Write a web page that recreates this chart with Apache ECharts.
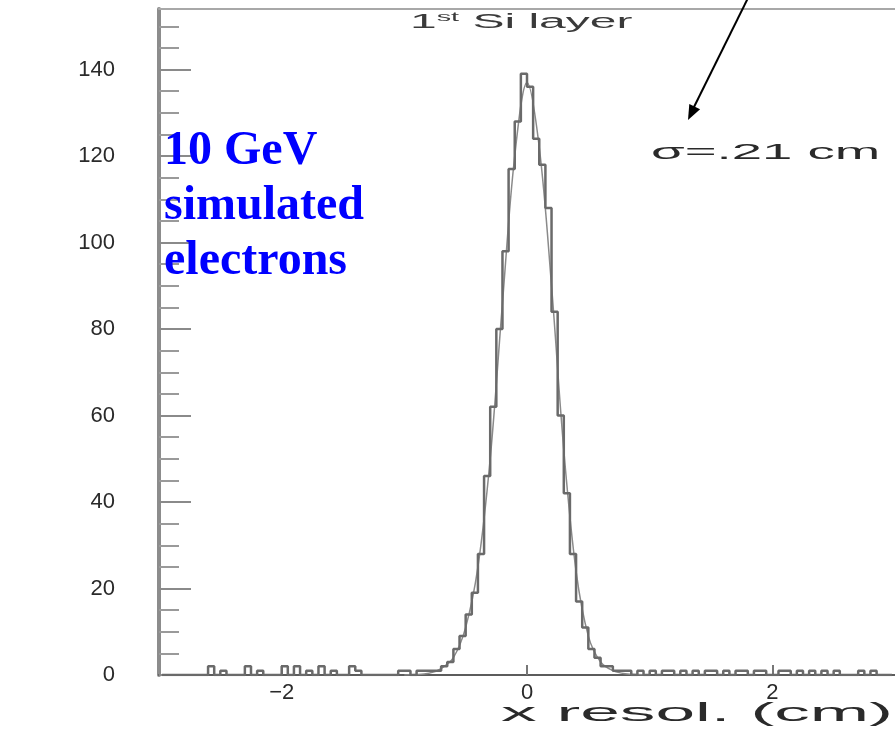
<!DOCTYPE html>
<html>
<head>
<meta charset="utf-8">
<title>1st Si layer – x resolution</title>
<script src="https://cdn.jsdelivr.net/npm/echarts@6/dist/echarts.min.js"></script>
<style>
  html, body { margin: 0; padding: 0; background: #ffffff; }
  #chart { width: 895px; height: 730px; }
</style>
</head>
<body>
<div id="chart"></div>
<script>
// Histogram binning: 120 bins of 0.05 cm between -3 and 3 cm
const binLow = -3;
const binWidth = 0.05;

// Entries per bin (x resolution, 10 GeV simulated electrons)
const binCounts = [
  0, 0, 0, 0, 0, 0, 0, 0, 2, 0,   1, 0, 0, 0, 2, 0, 1, 0, 0, 0,
  2, 0, 2, 0, 1, 0, 2, 0, 1, 0,   0, 2, 1, 0, 0, 0, 0, 0, 0, 1,
  1, 0, 1, 1, 1, 1, 2, 3, 6, 9,   14, 19, 28, 46, 62, 80, 98, 117, 128, 139,
  136, 124, 118, 108, 84, 60, 42, 28, 17, 11,   6, 4, 2, 2, 1, 1, 1, 0, 1, 0,
  1, 0, 1, 1, 0, 1, 0, 1, 0, 1,   1, 0, 1, 0, 1, 1, 0, 1, 1, 0,
  0, 1, 1, 0, 1, 0, 1, 0, 1, 0,   1, 0, 0, 0, 1, 0, 1, 0, 0, 0
];

// Gaussian fit curve, sampled points (cm, entries)
const fitX = [-1.0, -0.8, -0.7, -0.6, -0.5, -0.4, -0.3, -0.2, -0.1, 0.0, 0.1, 0.2, 0.3, 0.4, 0.5, 0.6, 0.7, 0.8, 1.0];
const fitY = [0, 0.4, 1.5, 4, 11, 25, 50, 86, 120, 137, 122, 90, 52, 24, 9, 3, 1, 0.3, 0];

// Axis ticks and labels
const xLabelValues = [-2, 0, 2];
const yLabelValues = [0, 20, 40, 60, 80, 100, 120, 140];
const yMinorValues = [5, 10, 15, 25, 30, 35, 45, 50, 55, 65, 70, 75, 85, 90, 95,
                      105, 110, 115, 125, 130, 135, 145, 150];

const xMin = -3, xMax = 3;
const yMin = 0, yMax = 154;

// Annotation texts
const titleText = ['1', 'st', ' Si layer'];
const sigmaText = 'σ=.21 cm';
const xAxisTitle = 'x resol. (cm)';
const sampleText = '10 GeV\nsimulated\nelectrons';

const histData = binCounts.map((c, i) => [binLow + binWidth * (i + 0.5), c]);
const fitData = fitX.map((x, i) => [x, fitY[i]]);

const axisFont = 'Liberation Sans';
const textGray = '#2a2a2a';

const chart = echarts.init(document.getElementById('chart'), null, { renderer: 'canvas' });

chart.setOption({
  backgroundColor: '#ffffff',
  animation: false,
  grid: { left: 159, top: 9, width: 742, height: 666, containLabel: false },
  xAxis: [
    {
      type: 'value', min: xMin, max: xMax, position: 'bottom',
      axisLine: { show: true, onZero: false, lineStyle: { color: '#5c5c5c', width: 2 } },
      axisTick: { show: true, inside: true, length: 10, customValues: xLabelValues,
                  lineStyle: { color: '#777777', width: 2 } },
      axisLabel: {
        show: true, customValues: xLabelValues, margin: 7,
        fontFamily: axisFont, fontSize: 22, color: textGray,
        formatter: v => (v < 0 ? '\u2212' + Math.abs(v) : String(v))
      },
      splitLine: { show: false }
    },
    {
      type: 'value', min: xMin, max: xMax, position: 'top',
      axisLine: { show: true, onZero: false, lineStyle: { color: '#a8a8a8', width: 2 } },
      axisTick: { show: false }, axisLabel: { show: false }, splitLine: { show: false }
    }
  ],
  yAxis: [
    {
      type: 'value', min: yMin, max: yMax, position: 'left',
      axisLine: { show: true, onZero: false, lineStyle: { color: '#8c8c8c', width: 4 } },
      axisTick: { show: true, inside: true, length: 32, customValues: yLabelValues,
                  lineStyle: { color: '#8a8a8a', width: 2 } },
      axisLabel: { show: true, customValues: yLabelValues, margin: 44,
                   fontFamily: axisFont, fontSize: 22, color: textGray },
      splitLine: { show: false }
    },
    {
      type: 'value', min: yMin, max: yMax, position: 'left',
      axisLine: { show: false, onZero: false },
      axisTick: { show: true, inside: true, length: 20, customValues: yMinorValues,
                  lineStyle: { color: '#9a9a9a', width: 2 } },
      axisLabel: { show: false }, splitLine: { show: false }
    }
  ],
  series: [
    {
      name: 'x resol.', type: 'line', step: 'middle',
      xAxisIndex: 0, yAxisIndex: 0,
      data: histData, showSymbol: false, symbol: 'none',
      lineStyle: { color: '#6a6a6a', width: 2.5 },
      z: 3
    },
    {
      name: 'gaussian fit', type: 'line', smooth: 0.35,
      xAxisIndex: 0, yAxisIndex: 0,
      data: fitData, showSymbol: false, symbol: 'none',
      lineStyle: { color: '#8a8a8a', width: 1.5 },
      z: 2
    }
  ],
  graphic: [
    {
      type: 'text', x: 410, y: 12, scaleX: 2.4, z: 10,
      style: {
        text: '{a|' + titleText[0] + '}{b|' + titleText[1] + '}{a|' + titleText[2] + '}',
        rich: {
          a: { fontFamily: axisFont, fontSize: 20, fill: '#3a3a3a', verticalAlign: 'bottom' },
          b: { fontFamily: axisFont, fontSize: 12, fill: '#3a3a3a', verticalAlign: 'top' }
        }
      }
    },
    {
      type: 'text', x: 651, y: 153, scaleX: 2.48, z: 10,
      style: { text: sigmaText, fontFamily: axisFont, fontSize: 22, fill: textGray,
               align: 'left', verticalAlign: 'middle' }
    },
    {
      type: 'text', x: 501, y: 714, scaleX: 2.85, z: 10,
      style: { text: xAxisTitle, fontFamily: axisFont, fontSize: 25, fill: textGray,
               align: 'left', verticalAlign: 'middle' }
    },
    {
      type: 'text', x: 164, y: 124, z: 10,
      style: { text: sampleText, fontFamily: 'Liberation Serif', fontWeight: 'bold',
               fontSize: 48, lineHeight: 55, fill: '#0000ff', align: 'left', verticalAlign: 'top' }
    },
    {
      type: 'line', z: 10,
      shape: { x1: 748, y1: -2, x2: 693, y2: 109 },
      style: { stroke: '#000000', lineWidth: 2 }
    },
    {
      type: 'polygon', z: 10,
      shape: { points: [[688, 120], [700.1, 109.3], [689.3, 103.9]] },
      style: { fill: '#000000' }
    }
  ]
});
</script>
</body>
</html>
